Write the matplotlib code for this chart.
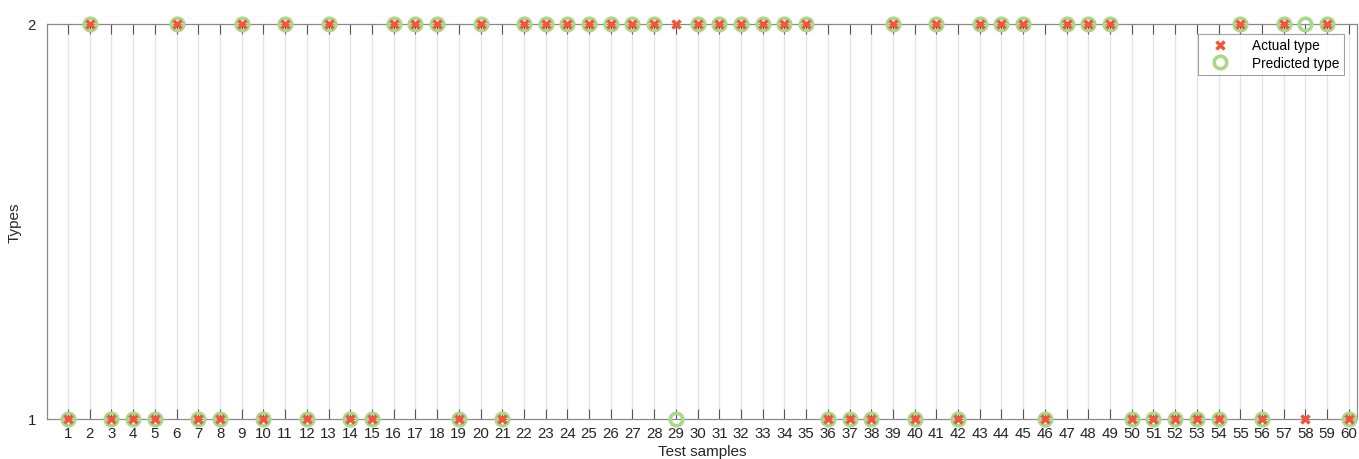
import numpy as np
import matplotlib.pyplot as plt

plt.rcParams['font.family'] = ['Liberation Sans', 'DejaVu Sans']

# class labels for the 60 test samples
samples = np.arange(1, 61)
actual = [1, 2, 1, 1, 1, 2, 1, 1, 2, 1,
          2, 1, 2, 1, 1, 2, 2, 2, 1, 2,
          1, 2, 2, 2, 2, 2, 2, 2, 2, 2,
          2, 2, 2, 2, 2, 1, 1, 1, 2, 1,
          2, 1, 2, 2, 2, 1, 2, 2, 2, 1,
          1, 1, 1, 1, 2, 1, 2, 1, 2, 1]
predicted = [1, 2, 1, 1, 1, 2, 1, 1, 2, 1,
             2, 1, 2, 1, 1, 2, 2, 2, 1, 2,
             1, 2, 2, 2, 2, 2, 2, 2, 1, 2,
             2, 2, 2, 2, 2, 1, 1, 1, 2, 1,
             2, 1, 2, 2, 2, 1, 2, 2, 2, 1,
             1, 1, 1, 1, 2, 1, 2, 2, 2, 1]

fig = plt.figure(figsize=(13.59, 4.6), dpi=100)
ax = fig.add_axes([0.0346, 0.087, 0.9638, 0.859])

ax.plot(samples, predicted, 'o', ms=9, mfc='none', mec='#a9d88a', mew=2.6,
        ls='none', label='Predicted type', clip_on=False, zorder=3)
ax.plot(samples, actual, 'x', ms=6, mec='#f2553a', mew=2.5,
        ls='none', label='Actual type', clip_on=False, zorder=4)

ax.set_xlim(0.03, 60.37)
ax.set_ylim(1, 2)
ax.set_xticks(samples)
ax.set_yticks([1, 2])
ax.tick_params(axis='both', direction='in', length=7, width=0.8,
               color='#555555', labelsize=10.8, labelcolor='#262626',
               top=True, right=False, pad=5)
ax.tick_params(axis='y', length=0, pad=8)
ax.grid(axis='x', color='#e3e3e3', lw=0.9)
ax.set_axisbelow(True)
for s in ax.spines.values():
    s.set_color('#8a8a8a')
    s.set_linewidth(0.9)

ax.set_xlabel('Test samples', fontsize=11, color='#262626', labelpad=3)
ax.set_ylabel('Types', fontsize=11, color='#262626', labelpad=4)

h, l = ax.get_legend_handles_labels()
leg = ax.legend(h[::-1], l[::-1], loc='upper right', bbox_to_anchor=(0.9905, 0.975),
                fontsize=9.8, frameon=True, fancybox=False, edgecolor='#8a8a8a',
                borderpad=0.35, handletextpad=1.2, labelspacing=0.25,
                handlelength=2.4, borderaxespad=0)
leg.get_frame().set_linewidth(0.8)

fig.savefig('out.png', dpi=100)
